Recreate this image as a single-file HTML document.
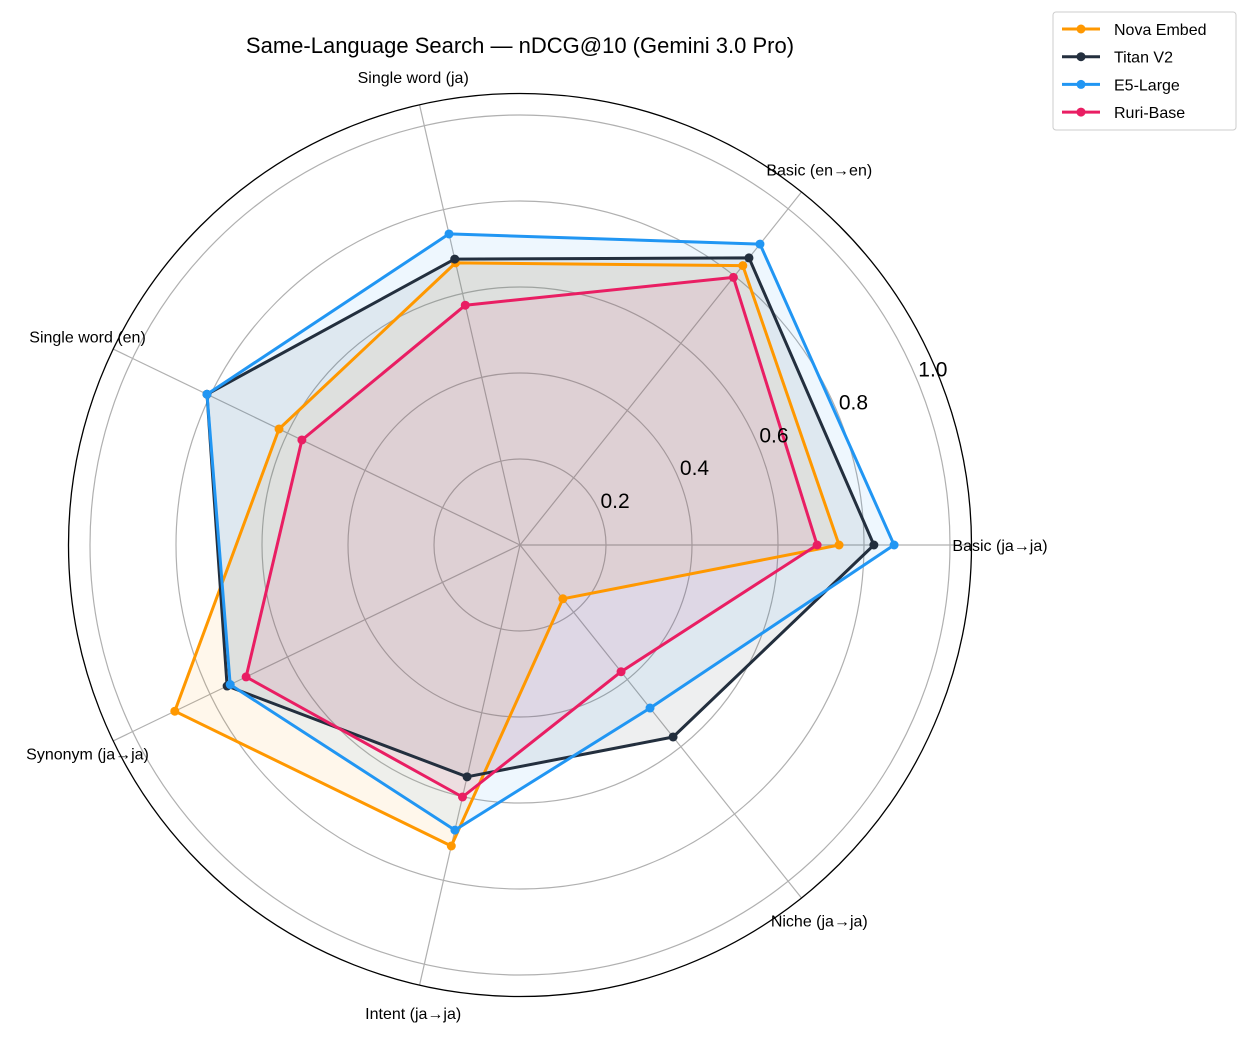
<!DOCTYPE html>
<html><head><meta charset="utf-8"><style>
body{margin:0;background:#fff;}
svg text{font-family:"Liberation Sans","Noto Sans CJK JP",sans-serif;}
</style></head><body>
<svg id="chart" width="1247" height="1037" xmlns="http://www.w3.org/2000/svg">
<text x="520" y="53" text-anchor="middle" font-size="22" fill="#000">Same-Language Search — nDCG@10 (Gemini 3.0 Pro)</text>
<g id="grid"></g><g id="series"></g><g id="labels"></g>
<g id="legend">
<rect x="1053" y="12" width="183" height="118" rx="3" fill="#fff" stroke="#ccc"/>
</g>
</svg>
<script>
const categories=["Basic (ja→ja)","Basic (en→en)","Single word (ja)","Single word (en)","Synonym (ja→ja)","Intent (ja→ja)","Niche (ja→ja)"];
const seriesNames=["Nova Embed","Titan V2","E5-Large","Ruri-Base"];
const novaValues=[0.742,0.831,0.673,0.622,0.891,0.718,0.160];
const titanValues=[0.823,0.854,0.682,0.808,0.756,0.553,0.571];
const e5Values=[0.870,0.895,0.742,0.808,0.748,0.680,0.485];
const ruriValues=[0.691,0.796,0.572,0.563,0.707,0.601,0.377];
const tickValues=[0.2,0.4,0.6,0.8,1.0];
const tickLabels=["0.2","0.4","0.6","0.8","1.0"];
const colors=["#ff9800","#232f3e","#2196f3","#e91e63"];
const NS="http://www.w3.org/2000/svg";
const cx=520,cy=545,scale=430,rMax=1.05;
function ang(i){return i*2*Math.PI/categories.length;}
function px(v,i){return cx+v*scale*Math.cos(ang(i));}
function py(v,i){return cy-v*scale*Math.sin(ang(i));}
function mk(tag,attrs,parent){const e=document.createElementNS(NS,tag);for(const k in attrs)e.setAttribute(k,attrs[k]);parent.appendChild(e);return e;}
const grid=document.getElementById('grid'),ser=document.getElementById('series'),lab=document.getElementById('labels');
tickValues.forEach((t,k)=>{
 const c=mk('circle',{cx:cx,cy:cy,r:t*scale,fill:'none',stroke:'#b0b0b0','stroke-width':1.2},grid);
 
 
});
categories.forEach((c,i)=>{
 const l=mk('line',{x1:cx,y1:cy,x2:px(rMax,i),y2:py(rMax,i),stroke:'#b0b0b0','stroke-width':1.2},grid);
 
 
 const t=mk('text',{x:px(480/scale,i),y:py(480/scale,i)+6,'text-anchor':'middle','font-size':16,fill:'#000'},lab);
 t.textContent=c;
 
 
});
const outer=mk('circle',{cx:cx,cy:cy,r:rMax*scale,fill:'none',stroke:'#000','stroke-width':1.3},grid);


const ta=22.5*Math.PI/180;
tickValues.forEach((t,k)=>{
 const e=mk('text',{x:cx+t*scale*Math.cos(ta)+1,y:cy-t*scale*Math.sin(ta)-4,'font-size':21,fill:'#000'},lab);
 e.textContent=tickLabels[k];
 
 
});
[novaValues,titanValues,e5Values,ruriValues].forEach((vals,s)=>{
 const pts=vals.map((v,i)=>px(v,i).toFixed(1)+','+py(v,i).toFixed(1)).join(' ');
 const f=mk('polygon',{points:pts,fill:colors[s],'fill-opacity':0.08,stroke:'none'},ser);
 
 
});
[novaValues,titanValues,e5Values,ruriValues].forEach((vals,s)=>{
 const pts=vals.map((v,i)=>px(v,i).toFixed(1)+','+py(v,i).toFixed(1)).join(' ');
 const p=mk('polygon',{points:pts,fill:'none',stroke:colors[s],'stroke-width':3,'stroke-linejoin':'round'},ser);
 
 
 vals.forEach((v,i)=>{
  const d=mk('circle',{cx:px(v,i),cy:py(v,i),r:4.5,fill:colors[s]},ser);
  
  
 });
});
const leg=document.getElementById('legend');
seriesNames.forEach((n,k)=>{
 const y=29+k*27.7;
 const g=mk('g',{},leg);
 
 
 mk('line',{x1:1062,y1:y,x2:1100,y2:y,stroke:colors[k],'stroke-width':3},g);
 mk('circle',{cx:1081,cy:y,r:4.5,fill:colors[k]},g);
 const t=mk('text',{x:1114,y:y+6,'font-size':16,fill:'#000'},g);
 t.textContent=n;
});
</script>
</body></html>
